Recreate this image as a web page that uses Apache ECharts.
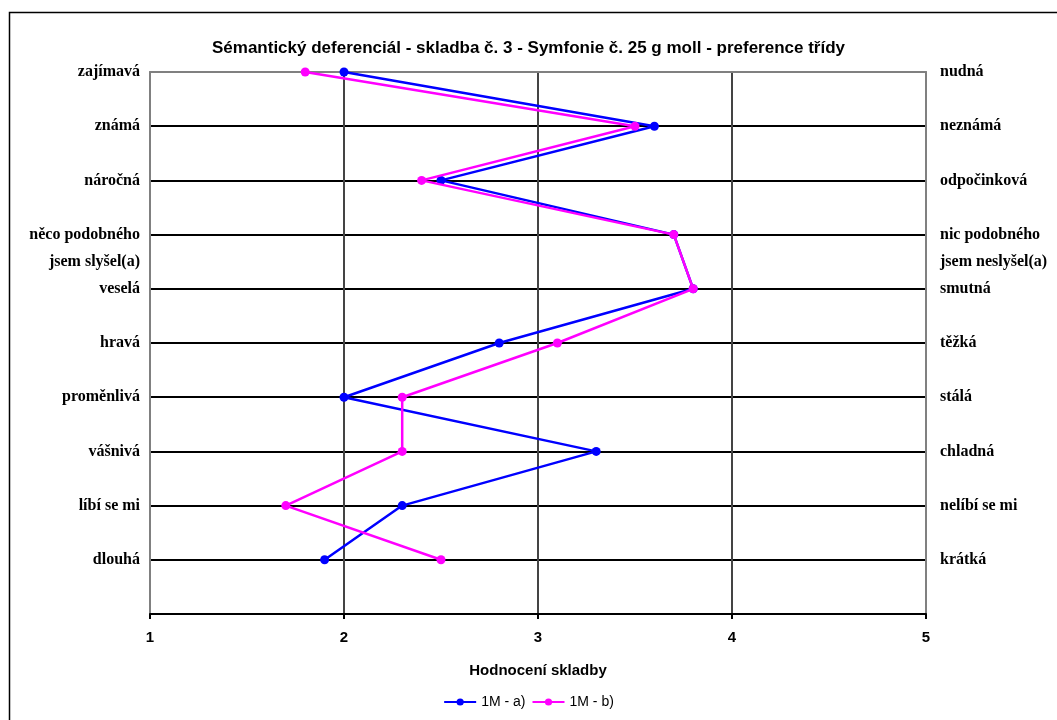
<!DOCTYPE html>
<html>
<head>
<meta charset="utf-8">
<script src="https://cdn.jsdelivr.net/npm/echarts@6/dist/echarts.min.js"></script>
<style>
html, body { margin: 0; padding: 0; background: #fff; }
#chart { width: 1057px; height: 720px; }
</style>
</head>
<body>
<div id="chart"></div>
<script>
// rows top to bottom; "\n" splits a two-line label
const leftLabels = ['zajímavá', 'známá', 'náročná', 'něco podobného\njsem slyšel(a)', 'veselá',
    'hravá', 'proměnlivá', 'vášnivá', 'líbí se mi', 'dlouhá']
const rightLabels = ['nudná', 'neznámá', 'odpočinková', 'nic podobného\njsem neslyšel(a)', 'smutná',
    'těžká', 'stálá', 'chladná', 'nelíbí se mi', 'krátká']
const seriesA = [2.0, 3.6, 2.5, 3.7, 3.8, 2.8, 2.0, 3.3, 2.3, 1.9]   // 1M - a)
const seriesB = [1.8, 3.5, 2.4, 3.7, 3.8, 3.1, 2.3, 2.3, 1.7, 2.5]   // 1M - b)
const xTicks = [1, 2, 3, 4, 5]

const rows = leftLabels.length

function rowLabel(labels, v) {
    const i = Math.round(rows - v)
    if (Number.isInteger(v)) {
        return labels[i] ? labels[i].split('\n')[0] : ''
    }
    const j = Math.round(rows - v - 0.5)
    const parts = labels[j] ? labels[j].split('\n') : []
    return parts[1] || ''
}

const toPoints = vals => vals.map((x, i) => [x, rows - i])

const labelStyle = {
    fontFamily: '"Liberation Serif", "Times New Roman", serif',
    fontWeight: 'bold',
    fontSize: 16,
    color: '#000'
}
const sans = '"Liberation Sans", Arial, sans-serif'

const chart = echarts.init(document.getElementById('chart'))
chart.setOption({
    animation: false,
    backgroundColor: '#fff',
    title: {
        text: 'Sémantický deferenciál - skladba č. 3 - Symfonie č. 25 g moll - preference třídy',
        left: 'center',
        top: 35,
        textStyle: { fontFamily: sans, fontWeight: 'bold', fontSize: 17, color: '#000' }
    },
    graphic: [{
        type: 'rect',
        shape: { x: 9.5, y: 12.5, width: 1100, height: 800 },
        style: { fill: 'none', stroke: '#000', lineWidth: 1.5 },
        silent: true
    }],
    legend: {
        bottom: 6,
        left: 'center',
        itemWidth: 32,
        itemHeight: 9,
        itemGap: 6,
        textStyle: { fontFamily: sans, fontSize: 14, color: '#000' },
        data: ['1M - a)', '1M - b)']
    },
    grid: { left: 150, right: 131, top: 72, bottom: 106 },
    xAxis: [{
        type: 'value',
        min: xTicks[0],
        max: xTicks[xTicks.length - 1],
        interval: 1,
        name: 'Hodnocení skladby',
        nameLocation: 'middle',
        nameGap: 49,
        nameTextStyle: { fontFamily: sans, fontWeight: 'bold', fontSize: 15, color: '#000' },
        axisLine: { show: true, onZero: false, lineStyle: { color: '#000', width: 2 } },
        axisTick: { show: true, length: 5, inside: false, lineStyle: { color: '#000', width: 2 } },
        axisLabel: { margin: 16, fontFamily: sans, fontWeight: 'bold', fontSize: 15, color: '#000' },
        splitLine: { show: true, showMinLine: false, showMaxLine: false, lineStyle: { color: '#444', width: 2 } }
    }, {
        type: 'value',
        position: 'top',
        min: xTicks[0],
        max: xTicks[xTicks.length - 1],
        axisLine: { show: true, onZero: false, lineStyle: { color: '#808080', width: 2 } },
        axisTick: { show: false },
        axisLabel: { show: false },
        splitLine: { show: false }
    }],
    yAxis: [{
        type: 'value',
        position: 'left',
        min: 0,
        max: rows,
        interval: 0.5,
        axisLine: { show: true, onZero: false, lineStyle: { color: '#808080', width: 2 } },
        axisTick: { show: false },
        axisLabel: Object.assign({ margin: 10, formatter: v => rowLabel(leftLabels, v) }, labelStyle),
        splitLine: { show: false }
    }, {
        type: 'value',
        position: 'right',
        min: 0,
        max: rows,
        interval: 0.5,
        axisLine: { show: true, onZero: false, lineStyle: { color: '#808080', width: 2 } },
        axisTick: { show: false },
        axisLabel: Object.assign({ margin: 14, formatter: v => rowLabel(rightLabels, v) }, labelStyle),
        splitLine: { show: false }
    }, {
        type: 'value',
        position: 'left',
        min: 0,
        max: rows,
        interval: 1,
        axisLine: { show: false },
        axisTick: { show: false },
        axisLabel: { show: false },
        splitLine: { show: true, showMinLine: false, showMaxLine: false, lineStyle: { color: '#000', width: 2 } }
    }],
    series: [{
        name: '1M - a)',
        type: 'line',
        xAxisIndex: 0,
        yAxisIndex: 0,
        data: toPoints(seriesA),
        color: '#0000ff',
        symbol: 'circle',
        symbolSize: 9,
        lineStyle: { width: 2.5, color: '#0000ff' },
        itemStyle: { color: '#0000ff' },
        z: 3
    }, {
        name: '1M - b)',
        type: 'line',
        xAxisIndex: 0,
        yAxisIndex: 0,
        data: toPoints(seriesB),
        color: '#ff00ff',
        symbol: 'circle',
        symbolSize: 9,
        lineStyle: { width: 2.5, color: '#ff00ff' },
        itemStyle: { color: '#ff00ff' },
        z: 4
    }]
})
</script>
</body>
</html>
